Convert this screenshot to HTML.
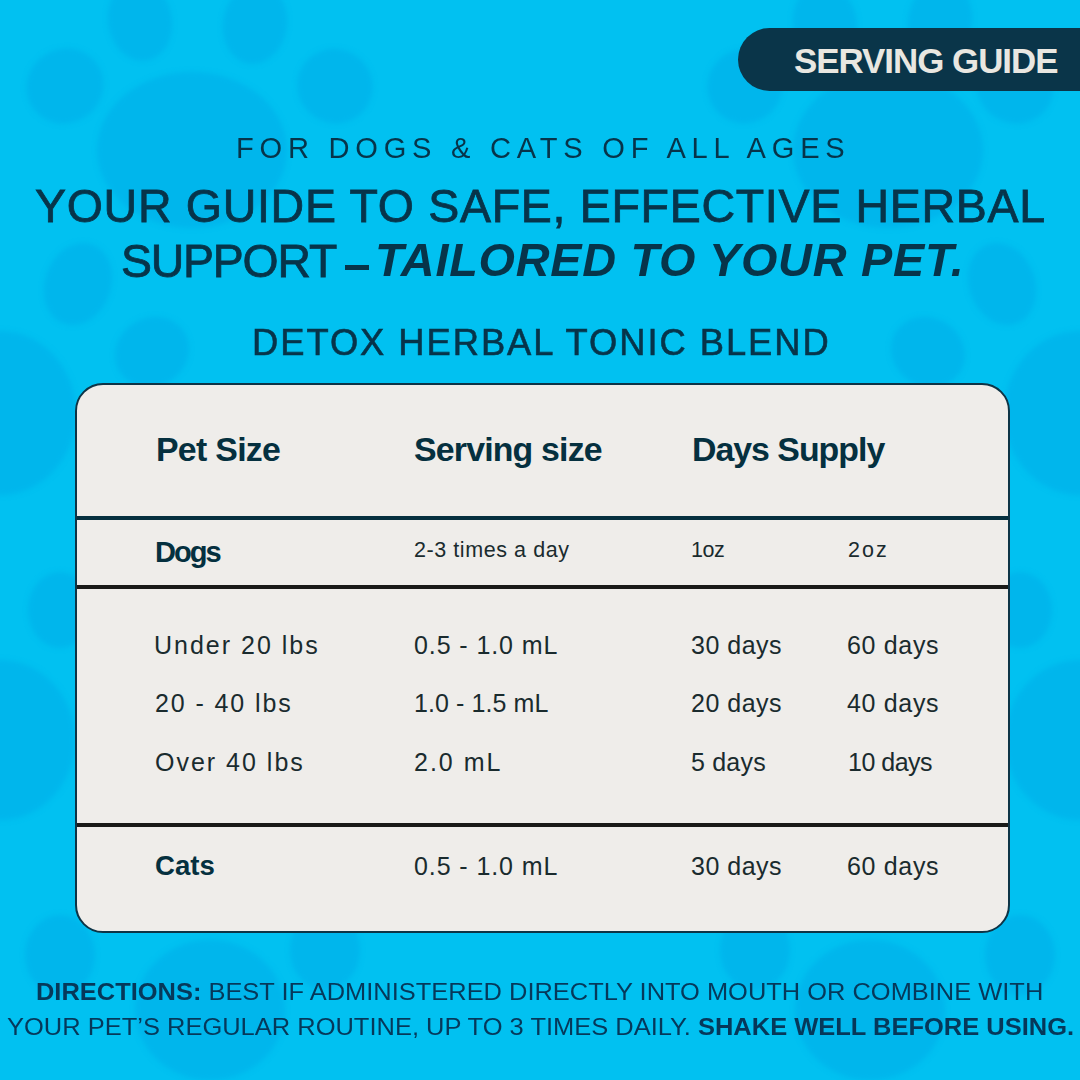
<!DOCTYPE html>
<html><head><meta charset="utf-8"><style>
html,body{margin:0;padding:0}
body{width:1080px;height:1080px;overflow:hidden;position:relative;background:#01c1f1;font-family:"Liberation Sans",sans-serif}
.t{position:absolute;white-space:nowrap;line-height:1}
.badge{position:absolute;left:738px;top:28.3px;width:420px;height:63px;border-radius:31.5px;background:#0a3549}
.card{position:absolute;left:75px;top:383px;width:931px;height:546px;border:2px solid #0e3446;border-radius:28px;background:#efedea;overflow:hidden}
.rule{position:absolute;left:0;width:100%;height:4.4px}
.dash{position:absolute;left:345px;top:264.8px;width:23.5px;height:4.8px;background:#07344a}
</style></head>
<body>
<svg style="position:absolute;left:0;top:0" width="1080" height="1080"><defs><filter id="bl" x="-20%" y="-20%" width="140%" height="140%"><feGaussianBlur stdDeviation="2.5"/></filter></defs><g fill="#00b6ec" filter="url(#bl)"><ellipse cx="65" cy="86" rx="39" ry="37" transform="rotate(-30 65 86)"/><ellipse cx="1015" cy="86" rx="39" ry="37" transform="rotate(30 1015 86)"/><ellipse cx="140" cy="21" rx="32" ry="40" transform="rotate(-10 140 21)"/><ellipse cx="940" cy="21" rx="32" ry="40" transform="rotate(10 940 21)"/><ellipse cx="255" cy="24" rx="32" ry="40" transform="rotate(10 255 24)"/><ellipse cx="825" cy="24" rx="32" ry="40" transform="rotate(-10 825 24)"/><ellipse cx="335" cy="86" rx="38" ry="37" transform="rotate(30 335 86)"/><ellipse cx="745" cy="86" rx="38" ry="37" transform="rotate(-30 745 86)"/><ellipse cx="192" cy="150" rx="95" ry="78" transform="rotate(0 192 150)"/><ellipse cx="888" cy="150" rx="95" ry="78" transform="rotate(0 888 150)"/><ellipse cx="78" cy="284" rx="33" ry="42" transform="rotate(20 78 284)"/><ellipse cx="1002" cy="284" rx="33" ry="42" transform="rotate(-20 1002 284)"/><ellipse cx="152" cy="352" rx="38" ry="34" transform="rotate(-30 152 352)"/><ellipse cx="928" cy="352" rx="38" ry="34" transform="rotate(30 928 352)"/><ellipse cx="0" cy="413" rx="76" ry="82" transform="rotate(0 0 413)"/><ellipse cx="1080" cy="413" rx="76" ry="82" transform="rotate(0 1080 413)"/><ellipse cx="60" cy="610" rx="32" ry="38" transform="rotate(0 60 610)"/><ellipse cx="1020" cy="610" rx="32" ry="38" transform="rotate(0 1020 610)"/><ellipse cx="0" cy="740" rx="75" ry="80" transform="rotate(0 0 740)"/><ellipse cx="1080" cy="740" rx="75" ry="80" transform="rotate(0 1080 740)"/><ellipse cx="60" cy="955" rx="35" ry="40" transform="rotate(0 60 955)"/><ellipse cx="1020" cy="955" rx="35" ry="40" transform="rotate(0 1020 955)"/><ellipse cx="210" cy="1010" rx="75" ry="70" transform="rotate(0 210 1010)"/><ellipse cx="870" cy="1010" rx="75" ry="70" transform="rotate(0 870 1010)"/><ellipse cx="325" cy="950" rx="35" ry="40" transform="rotate(0 325 950)"/><ellipse cx="755" cy="950" rx="35" ry="40" transform="rotate(0 755 950)"/></g></svg>
<div class="badge"></div>
<div class="card"><div class="rule" style="top:130.7px;background:#06303f"></div><div class="rule" style="top:200px;background:#1a1a18"></div><div class="rule" style="top:438px;background:#1a1a18"></div></div>
<div class="dash"></div>
<div class="t" style="left:794.00px;top:44.27px;font-size:34.88px;font-weight:bold;letter-spacing:-1.00px;color:#e9e7e1;">SERVING GUIDE</div>
<div class="t" style="left:236.00px;top:134.29px;font-size:29.07px;font-weight:normal;letter-spacing:5.77px;color:#07344a;">FOR DOGS &amp; CATS OF ALL AGES</div>
<div class="t" style="left:35.00px;top:183.13px;font-size:46.51px;font-weight:normal;letter-spacing:0.71px;color:#07344a;-webkit-text-stroke:0.8px #07344a;">YOUR GUIDE TO SAFE, EFFECTIVE HERBAL</div>
<div class="t" style="left:121.00px;top:238.25px;font-size:46.37px;font-weight:normal;letter-spacing:-1.17px;color:#07344a;-webkit-text-stroke:0.8px #07344a;">SUPPORT</div>
<div class="t" style="left:375.00px;top:237.08px;font-size:46.80px;font-weight:normal;letter-spacing:0.75px;color:#07344a;"><b><i>TAILORED TO YOUR PET.</i></b></div>
<div class="t" style="left:252.00px;top:325.04px;font-size:36.34px;font-weight:normal;letter-spacing:1.96px;color:#07344a;-webkit-text-stroke:0.6px #07344a;">DETOX HERBAL TONIC BLEND</div>
<div class="t" style="left:156.00px;top:433.13px;font-size:33.87px;font-weight:bold;letter-spacing:-0.71px;color:#05303f;">Pet Size</div>
<div class="t" style="left:414.00px;top:433.13px;font-size:33.87px;font-weight:bold;letter-spacing:-0.82px;color:#05303f;">Serving size</div>
<div class="t" style="left:692.00px;top:433.13px;font-size:33.87px;font-weight:bold;letter-spacing:-1.00px;color:#05303f;">Days Supply</div>
<div class="t" style="left:155.00px;top:538.39px;font-size:29.07px;font-weight:bold;letter-spacing:-2.00px;color:#05303f;">Dogs</div>
<div class="t" style="left:414.00px;top:539.80px;font-size:21.50px;font-weight:normal;letter-spacing:0.57px;color:#1a2b2e;">2-3 times a day</div>
<div class="t" style="left:691.00px;top:539.80px;font-size:21.50px;font-weight:normal;letter-spacing:-0.50px;color:#1a2b2e;">1oz</div>
<div class="t" style="left:848.00px;top:539.80px;font-size:21.50px;font-weight:normal;letter-spacing:2.00px;color:#1a2b2e;">2oz</div>
<div class="t" style="left:154.00px;top:632.84px;font-size:25.00px;font-weight:normal;letter-spacing:2.00px;color:#1a2b2e;">Under 20 lbs</div>
<div class="t" style="left:414.00px;top:632.84px;font-size:25.00px;font-weight:normal;letter-spacing:0.91px;color:#1a2b2e;">0.5 - 1.0 mL</div>
<div class="t" style="left:691.00px;top:632.84px;font-size:25.00px;font-weight:normal;letter-spacing:0.50px;color:#1a2b2e;">30 days</div>
<div class="t" style="left:847.00px;top:632.84px;font-size:25.00px;font-weight:normal;letter-spacing:0.67px;color:#1a2b2e;">60 days</div>
<div class="t" style="left:155.00px;top:691.14px;font-size:25.00px;font-weight:normal;letter-spacing:1.90px;color:#1a2b2e;">20 - 40 lbs</div>
<div class="t" style="left:414.00px;top:691.14px;font-size:25.00px;font-weight:normal;letter-spacing:0.09px;color:#1a2b2e;">1.0 - 1.5 mL</div>
<div class="t" style="left:691.00px;top:691.14px;font-size:25.00px;font-weight:normal;letter-spacing:0.50px;color:#1a2b2e;">20 days</div>
<div class="t" style="left:847.00px;top:691.14px;font-size:25.00px;font-weight:normal;letter-spacing:0.67px;color:#1a2b2e;">40 days</div>
<div class="t" style="left:155.00px;top:749.84px;font-size:25.00px;font-weight:normal;letter-spacing:2.00px;color:#1a2b2e;">Over 40 lbs</div>
<div class="t" style="left:414.00px;top:749.84px;font-size:25.00px;font-weight:normal;letter-spacing:2.00px;color:#1a2b2e;">2.0 mL</div>
<div class="t" style="left:691.00px;top:749.84px;font-size:25.00px;font-weight:normal;letter-spacing:0.20px;color:#1a2b2e;">5 days</div>
<div class="t" style="left:848.00px;top:749.84px;font-size:25.00px;font-weight:normal;letter-spacing:-0.50px;color:#1a2b2e;">10 days</div>
<div class="t" style="left:155.00px;top:851.62px;font-size:27.62px;font-weight:bold;letter-spacing:0.00px;color:#05303f;">Cats</div>
<div class="t" style="left:414.00px;top:853.84px;font-size:25.00px;font-weight:normal;letter-spacing:0.91px;color:#1a2b2e;">0.5 - 1.0 mL</div>
<div class="t" style="left:691.00px;top:853.84px;font-size:25.00px;font-weight:normal;letter-spacing:0.50px;color:#1a2b2e;">30 days</div>
<div class="t" style="left:847.00px;top:853.84px;font-size:25.00px;font-weight:normal;letter-spacing:0.67px;color:#1a2b2e;">60 days</div>
<div class="t" style="left:35.90px;top:980.22px;font-size:23.84px;font-weight:normal;letter-spacing:0.00px;transform:scaleX(1.0676);transform-origin:0 0;color:#06385a;"><b>DIRECTIONS:</b> BEST IF ADMINISTERED DIRECTLY INTO MOUTH OR COMBINE WITH</div>
<div class="t" style="left:6.96px;top:1014.81px;font-size:24.56px;font-weight:normal;letter-spacing:0.00px;transform:scaleX(1.0380);transform-origin:0 0;color:#06385a;">YOUR PET’S REGULAR ROUTINE, UP TO 3 TIMES DAILY. <b>SHAKE WELL BEFORE USING.</b></div>
</body></html>
